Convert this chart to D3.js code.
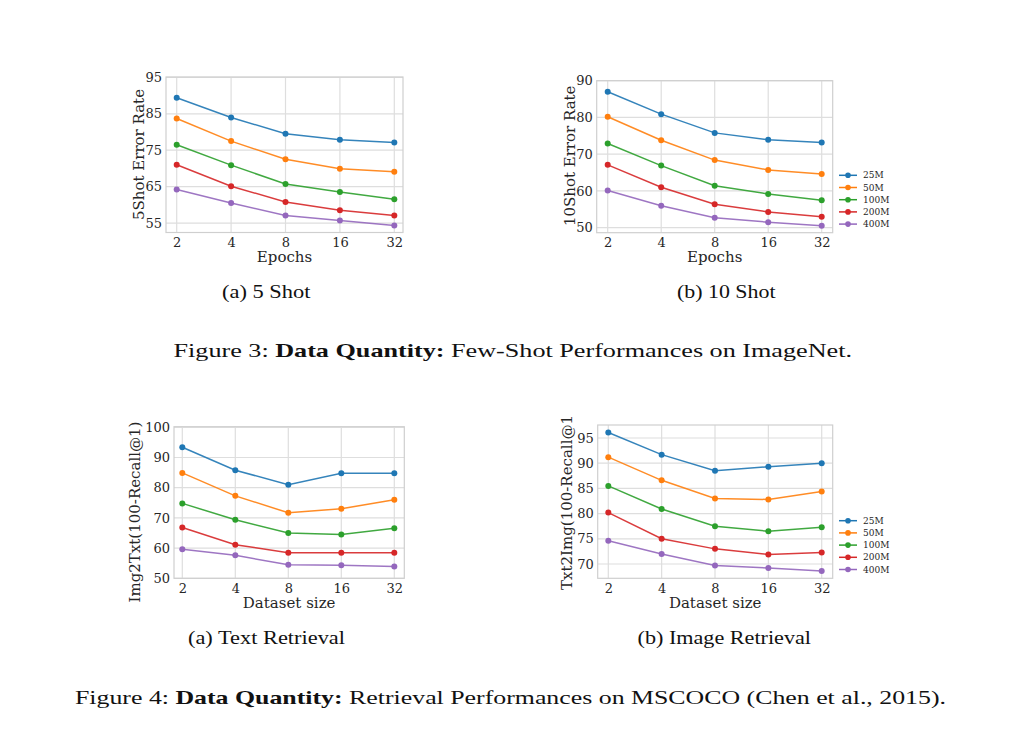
<!DOCTYPE html>
<html lang="en">
<head>
    <meta charset="UTF-8">
    <title>Data Quantity</title>
    <style>
        body { margin: 0; background: #fff; }
        svg { display: block; }
    </style>
</head>
<body>
    <svg id="graph" width="1024" height="748"></svg>

    <script src="https://d3js.org/d3.v7.min.js"></script>
    <script>
        // values, one row per dataset size
        const xValues = [2, 4, 8, 16, 32];
        const sizes = ["25M", "50M", "100M", "200M", "400M"];
        const colors = ["#1f77b4", "#ff7f0e", "#2ca02c", "#d62728", "#9467bd"];

        const fiveShot = [
            [89.4, 84.0, 79.5, 77.9, 77.1],
            [83.7, 77.5, 72.5, 69.9, 69.1],
            [76.5, 70.9, 65.7, 63.5, 61.5],
            [71.0, 65.1, 60.8, 58.5, 57.1],
            [64.2, 60.5, 57.1, 55.7, 54.3]
        ];
        const tenShot = [
            [87.0, 80.9, 75.8, 73.9, 73.2],
            [80.2, 73.8, 68.4, 65.7, 64.6],
            [72.9, 66.9, 61.4, 59.2, 57.5],
            [67.1, 61.0, 56.4, 54.3, 53.0],
            [60.1, 56.0, 52.7, 51.5, 50.5]
        ];
        const img2txt = [
            [93.4, 85.8, 81.0, 84.8, 84.8],
            [84.9, 77.3, 71.7, 73.0, 76.0],
            [74.8, 69.4, 65.0, 64.5, 66.6],
            [66.8, 61.1, 58.5, 58.5, 58.5],
            [59.6, 57.6, 54.5, 54.3, 53.9]
        ];
        const txt2img = [
            [96.1, 91.7, 88.5, 89.3, 90.0],
            [91.2, 86.6, 83.0, 82.8, 84.4],
            [85.5, 80.9, 77.5, 76.5, 77.3],
            [80.2, 75.0, 73.0, 71.9, 72.3],
            [74.6, 72.0, 69.7, 69.2, 68.6]
        ];

        const fiveShotTicks = [55, 65, 75, 85, 95];
        const tenShotTicks = [50, 60, 70, 80, 90];
        const img2txtTicks = [50, 60, 70, 80, 90, 100];
        const txt2imgTicks = [70, 75, 80, 85, 90, 95];

        const svg = d3.select("#graph");
        svg.append("rect").attr("width", 1024).attr("height", 748).attr("fill", "#fff");

        const serif = "'DejaVu Serif', serif";
        const textColor = "#262626";

        // frame of each subplot in page pixels
        const panels = [
            { data: fiveShot, ticks: fiveShotTicks, yDomain: [52.4, 95.1],
              box: [166, 77, 403, 232.5], xr: [176.7, 394.3],
              ylabel: "5Shot Error Rate", ylx: 144, yly: 154.5, xlabel: "Epochs", legend: false },
            { data: tenShot, ticks: tenShotTicks, yDomain: [48.64, 90],
              box: [596.7, 80.7, 832.7, 232.7], xr: [607.7, 821.7],
              ylabel: "10Shot Error Rate", ylx: 575, yly: 155.8, xlabel: "Epochs", legend: 175.3 },
            { data: img2txt, ticks: img2txtTicks, yDomain: [50, 100.2],
              box: [174, 426.7, 404.3, 578.3], xr: [182.3, 394.3],
              ylabel: "Img2Txt(100-Recall@1)", ylx: 140, yly: 512, xlabel: "Dataset size", legend: false },
            { data: txt2img, ticks: txt2imgTicks, yDomain: [67.16, 97.58],
              box: [597.7, 425, 832.7, 578.3], xr: [608.3, 821.7],
              ylabel: "Txt2Img(100-Recall@1", ylx: 572, yly: 590, ylAnchor: "start", xlabel: "Dataset size", legend: 520.7 }
        ];

        panels.forEach((p) => {
            const [x0, y0, x1, y1] = p.box;
            const g = svg.append("g");

            const xScale = d3.scaleLog().base(2)
                .domain([2, 32])
                .range(p.xr);
            const yScale = d3.scaleLinear()
                .domain(p.yDomain)
                .range([y1, y0]);

            // grid
            g.append("g")
                .selectAll("line.v")
                .data(xValues)
                .join("line")
                .attr("x1", (d) => xScale(d)).attr("x2", (d) => xScale(d))
                .attr("y1", y0).attr("y2", y1)
                .attr("stroke", "#dedede").attr("stroke-width", 1.2);
            g.append("g")
                .selectAll("line.h")
                .data(p.ticks)
                .join("line")
                .attr("x1", x0).attr("x2", x1)
                .attr("y1", (d) => yScale(d)).attr("y2", (d) => yScale(d))
                .attr("stroke", "#dedede").attr("stroke-width", 1.2);

            // axes, tick marks hidden like the seaborn style
            const xAxis = d3.axisBottom(xScale)
                .tickValues(xValues)
                .tickFormat(d3.format("d"))
                .tickSize(0)
                .tickPadding(5);
            const yAxis = d3.axisLeft(yScale)
                .tickValues(p.ticks)
                .tickSize(0)
                .tickPadding(4);

            const gx = g.append("g")
                .attr("transform", `translate(0, ${y1})`)
                .call(xAxis);
            const gy = g.append("g")
                .attr("transform", `translate(${x0}, 0)`)
                .call(yAxis);
            [gx, gy].forEach((a) => {
                a.select(".domain").remove();
                a.selectAll("text")
                    .attr("font-family", serif)
                    .attr("font-size", 13)
                    .attr("fill", textColor);
            });

            g.append("rect")
                .attr("x", x0).attr("y", y0)
                .attr("width", x1 - x0).attr("height", y1 - y0)
                .attr("fill", "none")
                .attr("stroke", "#cfcfcf").attr("stroke-width", 1.2);

            // series
            const line = d3.line()
                .x((d, i) => xScale(xValues[i]))
                .y((d) => yScale(d));

            p.data.forEach((row, k) => {
                g.append("path")
                    .datum(row)
                    .attr("d", line)
                    .attr("fill", "none")
                    .attr("stroke", colors[k])
                    .attr("stroke-width", 1.5)
                    .attr("opacity", 0.9);
                g.selectAll(null)
                    .data(row)
                    .join("circle")
                    .attr("cx", (d, i) => xScale(xValues[i]))
                    .attr("cy", (d) => yScale(d))
                    .attr("r", 3)
                    .attr("fill", colors[k]);
            });

            // labels
            g.append("text")
                .attr("x", (x0 + x1) / 2)
                .attr("y", y1 + 29.5)
                .attr("text-anchor", "middle")
                .attr("font-family", serif)
                .attr("font-size", 15)
                .attr("fill", textColor)
                .text(p.xlabel);
            g.append("text")
                .attr("transform", `translate(${p.ylx}, ${p.yly}) rotate(-90)`)
                .attr("text-anchor", p.ylAnchor || "middle")
                .attr("font-family", serif)
                .attr("font-size", 15)
                .attr("fill", textColor)
                .text(p.ylabel);

            if (p.legend) {
                const lg = g.append("g");
                sizes.forEach((s, k) => {
                    const cy = p.legend + k * 12.2;
                    lg.append("line")
                        .attr("x1", 839).attr("x2", 857)
                        .attr("y1", cy).attr("y2", cy)
                        .attr("stroke", colors[k]).attr("stroke-width", 1.5);
                    lg.append("circle")
                        .attr("cx", 848).attr("cy", cy).attr("r", 2.8)
                        .attr("fill", colors[k]);
                    lg.append("text")
                        .attr("x", 863).attr("y", cy)
                        .attr("dy", "0.35em")
                        .attr("font-family", serif)
                        .attr("font-size", 9)
                        .attr("fill", textColor)
                        .text(s);
                });
            }
        });

        // captions
        const capFont = "'Liberation Serif', 'Times New Roman', serif";
        const captions = [
            { parts: [["(a) 5 Shot", false]], x0: 222, x1: 310.5, y: 298.3, size: 19 },
            { parts: [["(b) 10 Shot", false]], x0: 677, x1: 775.5, y: 298.3, size: 19 },
            { parts: [["Figure 3: ", false], ["Data Quantity:", true], [" Few-Shot Performances on ImageNet.", false]],
              x0: 173.5, x1: 852, y: 357.3, size: 19 },
            { parts: [["(a) Text Retrieval", false]], x0: 188, x1: 345, y: 643.8, size: 19 },
            { parts: [["(b) Image Retrieval", false]], x0: 637.5, x1: 811, y: 643.8, size: 19 },
            { parts: [["Figure 4: ", false], ["Data Quantity:", true], [" Retrieval Performances on MSCOCO (Chen et al., 2015).", false]],
              x0: 75, x1: 946, y: 703.5, size: 19 }
        ];
        captions.forEach((c) => {
            const t = svg.append("text")
                .attr("x", c.x0).attr("y", c.y)
                .attr("font-family", capFont)
                .attr("font-size", c.size)
                .attr("fill", "#111")
                .attr("textLength", c.x1 - c.x0)
                .attr("lengthAdjust", "spacingAndGlyphs");
            c.parts.forEach(([s, b]) => {
                t.append("tspan")
                    .attr("font-weight", b ? "bold" : "normal")
                    .text(s);
            });
        });
    </script>
</body>
</html>
